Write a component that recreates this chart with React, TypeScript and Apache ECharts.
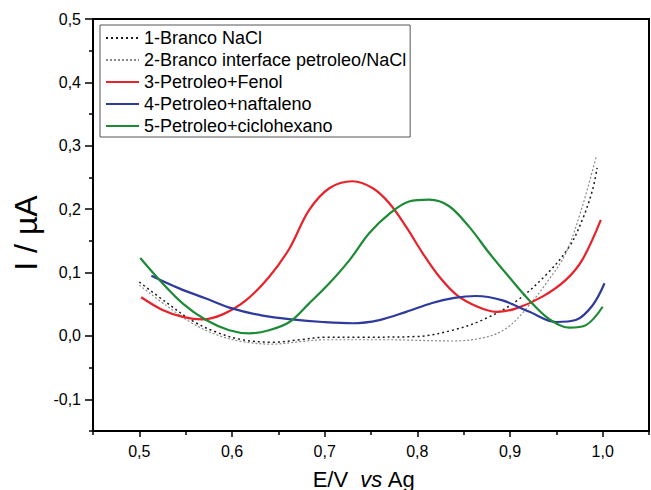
import React, { useEffect, useRef } from "react";
import * as echarts from "echarts";

// ---- data ----
const seriesNames = [
  "1-Branco NaCl",
  "2-Branco interface petroleo/NaCl",
  "3-Petroleo+Fenol",
  "4-Petroleo+naftaleno",
  "5-Petroleo+ciclohexano",
];

const brancoX = [0.5, 0.529, 0.557, 0.583, 0.611, 0.644, 0.673, 0.701, 0.74, 0.799, 0.838, 0.87, 0.906, 0.94, 0.964, 0.978, 0.989, 0.994];
const brancoY = [0.085, 0.053, 0.024, 0.006, -0.006, -0.01, -0.006, -0.002, -0.002, -0.001, 0.009, 0.025, 0.054, 0.098, 0.141, 0.183, 0.23, 0.265];

const interfX = [0.5, 0.529, 0.557, 0.583, 0.611, 0.644, 0.673, 0.701, 0.766, 0.838, 0.874, 0.896, 0.917, 0.94, 0.96, 0.978, 0.993];
const interfY = [0.08, 0.048, 0.02, 0.002, -0.009, -0.013, -0.009, -0.006, -0.006, -0.008, -0.002, 0.012, 0.042, 0.085, 0.13, 0.204, 0.283];

const fenolX = [0.502, 0.525, 0.547, 0.568, 0.59, 0.615, 0.64, 0.662, 0.683, 0.705, 0.73, 0.752, 0.77, 0.788, 0.806, 0.824, 0.843, 0.865, 0.885, 0.906, 0.935, 0.96, 0.978, 0.998];
const fenolY = [0.061, 0.041, 0.03, 0.026, 0.034, 0.056, 0.093, 0.138, 0.198, 0.233, 0.244, 0.233, 0.209, 0.172, 0.13, 0.093, 0.064, 0.046, 0.038, 0.043, 0.062, 0.088, 0.12, 0.183];

const naftX = [0.513, 0.543, 0.572, 0.601, 0.633, 0.665, 0.698, 0.73, 0.759, 0.788, 0.816, 0.84, 0.863, 0.892, 0.921, 0.95, 0.971, 0.989, 1.002];
const naftY = [0.095, 0.075, 0.059, 0.043, 0.032, 0.026, 0.022, 0.02, 0.025, 0.038, 0.052, 0.06, 0.063, 0.056, 0.038, 0.022, 0.025, 0.048, 0.083];

const cicloX = [0.501, 0.522, 0.547, 0.572, 0.597, 0.619, 0.64, 0.662, 0.683, 0.705, 0.727, 0.748, 0.77, 0.791, 0.813, 0.834, 0.856, 0.878, 0.899, 0.921, 0.942, 0.964, 0.982, 1.0];
const cicloY = [0.123, 0.088, 0.051, 0.025, 0.009, 0.004, 0.009, 0.022, 0.051, 0.083, 0.12, 0.162, 0.193, 0.212, 0.215, 0.205, 0.172, 0.13, 0.093, 0.056, 0.027, 0.013, 0.017, 0.046];

const xMajorTicks = [0.5, 0.6, 0.7, 0.8, 0.9, 1.0];
const xMinorTicks = [0.45, 0.55, 0.65, 0.75, 0.85, 0.95, 1.05];
const yMajorTicks = [-0.1, 0, 0.1, 0.2, 0.3, 0.4, 0.5];
const yMinorTicks = [-0.15, -0.05, 0.05, 0.15, 0.25, 0.35, 0.45];

const FONT = "Arial, 'Liberation Sans', sans-serif";

const zip = (xs: number[], ys: number[]) => xs.map((x, i) => [x, ys[i]]);
const fmt = (v: number) => (Math.abs(v) < 1e-9 ? 0 : v).toFixed(1).replace(".", ",");

export default function App() {
  const ref = useRef<HTMLDivElement>(null);
  useEffect(() => {
    if (!ref.current) return;
    const chart = echarts.init(ref.current, null, { renderer: "svg" });
    const lineBase = { type: "line", smooth: 0.35, symbol: "none", showSymbol: false, xAxisIndex: 0, yAxisIndex: 0 };
    chart.setOption({
      animation: false,
      backgroundColor: "#fff",
      grid: { left: 93, top: 19, right: 2, bottom: 59, show: true, borderColor: "#000", borderWidth: 2, backgroundColor: "transparent" },
      xAxis: [
        {
          type: "value", min: 0.45, max: 1.05, position: "bottom",
          axisLine: { show: true, onZero: false, lineStyle: { color: "#000", width: 2 } },
          axisTick: { show: true, customValues: xMajorTicks, length: 6, lineStyle: { color: "#000", width: 1.5 } },
          axisLabel: { customValues: xMajorTicks, formatter: fmt, color: "#000", fontSize: 16, fontFamily: FONT, margin: 12 },
          splitLine: { show: false },
        },
        {
          type: "value", min: 0.45, max: 1.05, position: "bottom",
          axisLine: { show: false, onZero: false },
          axisTick: { show: true, customValues: xMinorTicks, length: 4, lineStyle: { color: "#000", width: 1.5 } },
          axisLabel: { show: false },
          splitLine: { show: false },
        },
      ],
      yAxis: [
        {
          type: "value", min: -0.15, max: 0.5, position: "left",
          axisLine: { show: true, onZero: false, lineStyle: { color: "#000", width: 2 } },
          axisTick: { show: true, customValues: yMajorTicks, length: 8, lineStyle: { color: "#000", width: 1.5 } },
          axisLabel: { customValues: yMajorTicks, formatter: fmt, color: "#000", fontSize: 16, fontFamily: FONT, margin: 12 },
          splitLine: { show: false },
        },
        {
          type: "value", min: -0.15, max: 0.5, position: "left",
          axisLine: { show: false, onZero: false },
          axisTick: { show: true, customValues: yMinorTicks, length: 4, lineStyle: { color: "#000", width: 1.5 } },
          axisLabel: { show: false },
          splitLine: { show: false },
        },
      ],
      legend: {
        orient: "vertical",
        left: 100,
        top: 25,
        data: seriesNames,
        itemWidth: 33,
        itemHeight: 14,
        itemGap: 4,
        padding: [4, 4, 2, 5],
        borderColor: "#555",
        borderWidth: 1,
        backgroundColor: "#fff",
        itemStyle: { opacity: 0, borderWidth: 0 },
        textStyle: { fontSize: 18, lineHeight: 18, color: "#000", fontFamily: FONT },
      },
      graphic: [
        {
          type: "text", x: 26, y: 233, rotation: Math.PI / 2,
          style: { text: "I / µA", font: `32px ${FONT}`, fill: "#000", align: "center", verticalAlign: "middle" },
        },
        {
          type: "text", x: 364, y: 479,
          style: {
            text: "E/V  {i|vs} Ag",
            font: `22px ${FONT}`,
            fill: "#000",
            align: "center",
            verticalAlign: "middle",
            rich: { i: { fontStyle: "italic", fontSize: 22, fontFamily: FONT, fill: "#000", color: "#000" } },
          },
        },
      ],
      series: [
        { ...lineBase, name: seriesNames[0], data: zip(brancoX, brancoY), lineStyle: { color: "#1a1a1a", width: 1.5, type: [2, 3] }, itemStyle: { color: "#1a1a1a" }, z: 2 },
        { ...lineBase, name: seriesNames[1], data: zip(interfX, interfY), lineStyle: { color: "#8a8a8a", width: 1.2, type: [2, 2] }, itemStyle: { color: "#8a8a8a" }, z: 2 },
        { ...lineBase, name: seriesNames[2], data: zip(fenolX, fenolY), lineStyle: { color: "#e8222a", width: 2.2 }, itemStyle: { color: "#e8222a" }, z: 3 },
        { ...lineBase, name: seriesNames[3], data: zip(naftX, naftY), lineStyle: { color: "#2e3a9e", width: 2.2 }, itemStyle: { color: "#2e3a9e" }, z: 3 },
        { ...lineBase, name: seriesNames[4], data: zip(cicloX, cicloY), lineStyle: { color: "#1d8a35", width: 2.2 }, itemStyle: { color: "#1d8a35" }, z: 3 },
      ],
    });
    return () => chart.dispose();
  }, []);
  return <div ref={ref} style={{ position: "absolute", left: 0, top: 0, width: 651, height: 490 }} />;
}
